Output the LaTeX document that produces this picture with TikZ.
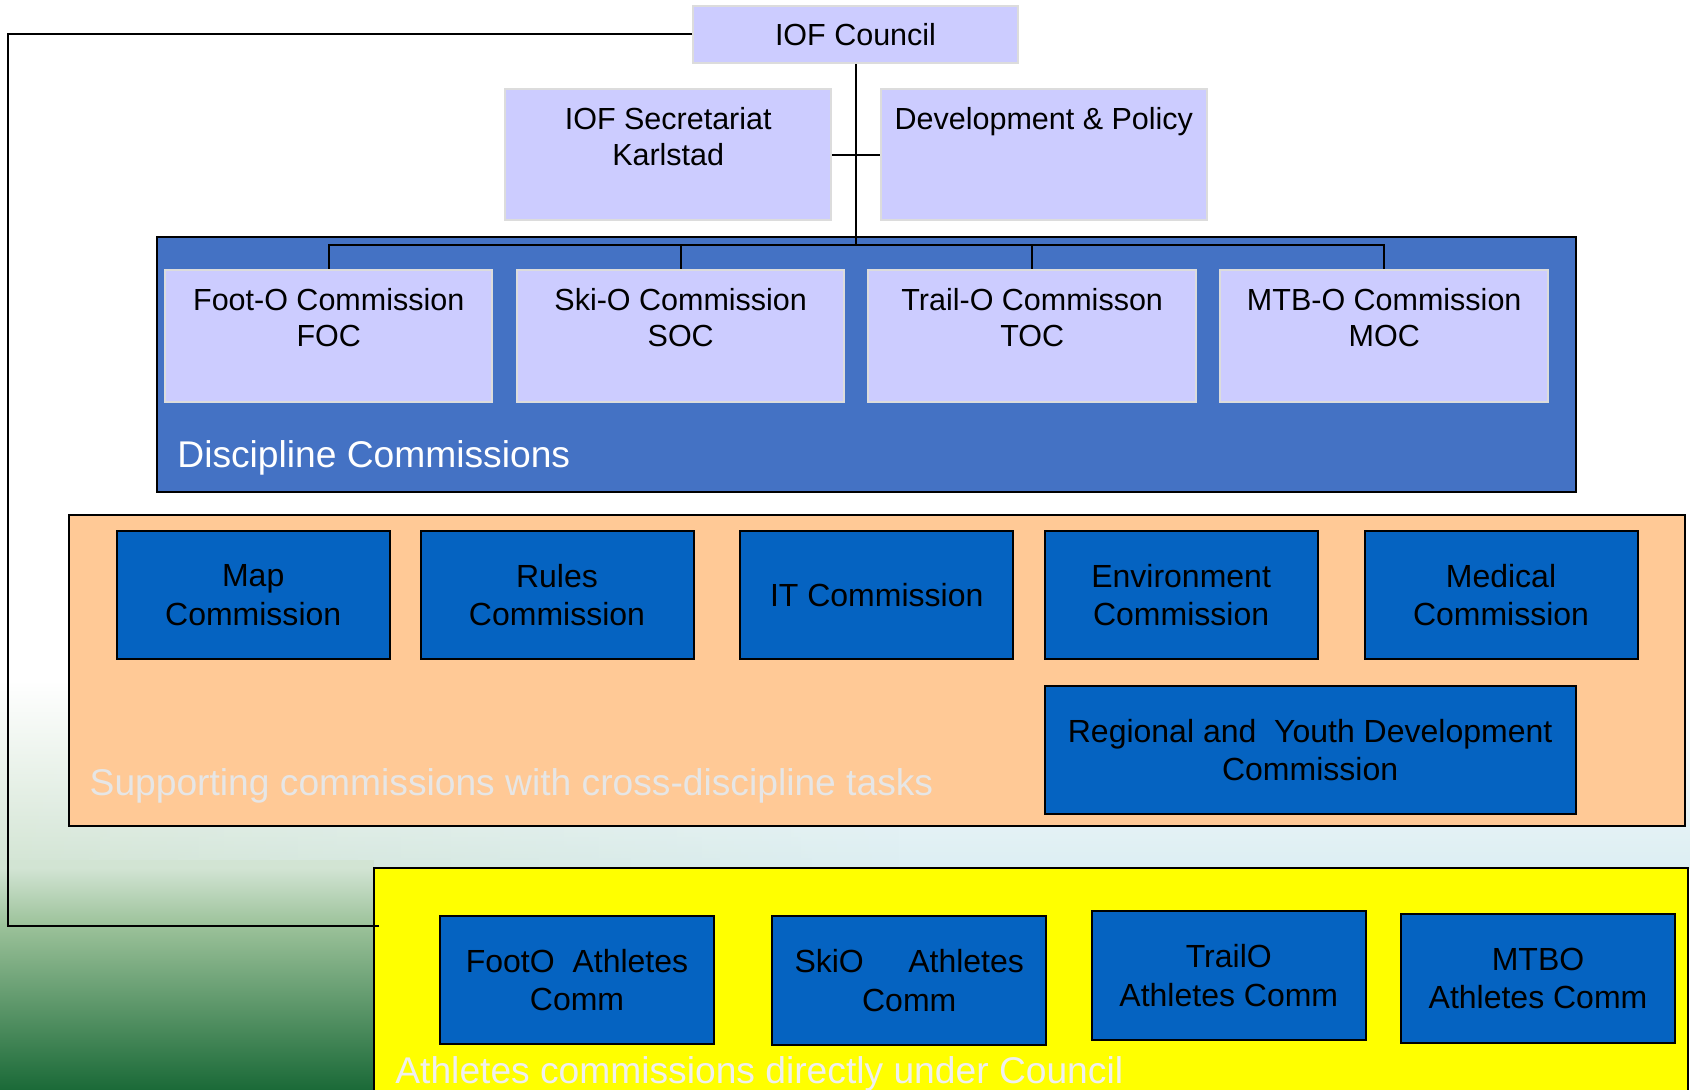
\documentclass[tikz,border=0pt]{standalone}
\usepackage{fontspec}
\setmainfont{Liberation Sans}
\usetikzlibrary{fadings}
\definecolor{lavfill}{HTML}{CCCCFF}
\definecolor{lavline}{HTML}{DCDCDC}
\definecolor{discfill}{HTML}{4472C4}
\definecolor{bluefill}{HTML}{0563C1}
\definecolor{orangefill}{HTML}{FFC996}
\definecolor{yelfill}{HTML}{FFFF00}
\definecolor{greenpale}{HTML}{D2E4D3}
\definecolor{greentop}{HTML}{9CC29A}
\definecolor{greenmid}{HTML}{559650}
\definecolor{greenbot}{HTML}{1B6A38}
\definecolor{bluehaze}{HTML}{DCEEF2}
\definecolor{greyw}{HTML}{E6E6E6}
\definecolor{whitish}{HTML}{EFEFEF}
\begin{document}
\begin{tikzpicture}[x=0.5pt,y=-0.5pt,
  conn/.style={line width=1pt,draw=black},
  lavbox/.style={draw=lavline,line width=1pt,fill=lavfill,inner sep=0pt},
  lavtxt/.style={font=\fontsize{15.25}{18.3}\selectfont,align=center,inner sep=0pt,anchor=north},
  bluebox/.style={draw=black,line width=1pt,fill=bluefill,inner sep=0pt,align=center,
    minimum width=136.5pt,minimum height=64.3pt,font=\fontsize{16}{19.2}\selectfont},
  container/.style={draw=black,line width=1pt,inner sep=0pt},
  biglabel/.style={font=\fontsize{18.6}{22}\selectfont,anchor=base west,inner sep=0pt}]
\useasboundingbox (0,0) rectangle (1690,1089);
% background
\fill[white] (0,0) rectangle (1690,1089);
\shade[top color=white,bottom color=bluehaze] (0,680) rectangle (1690,868);
\shade[top color=white,bottom color=greenpale,path fading=east] (0,680) rectangle (900,868);
\fill[greenpale] (0,860) rectangle (374,868);
\shade[top color=greenpale,bottom color=greentop] (0,867.5) rectangle (374,925);
\shade[top color=greentop,middle color=greenmid,bottom color=greenbot] (0,924.5) rectangle (374,1089);
% containers
\node[container,fill=discfill,minimum width=709.5pt,minimum height=127.8pt] (disc) at (866.2,364.5) {};
\node[container,fill=orangefill,minimum width=808.05pt,minimum height=155.5pt] (supp) at (876.95,670.2) {};
\node[container,fill=yelfill,minimum width=657pt,minimum height=116pt] (ath) at (1031,984) {};
% lavender boxes
\node[lavbox,minimum width=162.5pt,minimum height=28.35pt,font=\fontsize{15.25}{18.3}\selectfont] (council) at (855.5,34.4) {IOF Council};
\node[lavbox,minimum width=162.75pt,minimum height=65.35pt] (sec) at (668.2,154.6) {};
\node[lavbox,minimum width=162.75pt,minimum height=65.35pt] (dev) at (1043.8,154.6) {};
\node[lavbox,minimum width=163.75pt,minimum height=66.15pt] (foc) at (328.7,336.1) {};
\node[lavbox,minimum width=163.75pt,minimum height=66.15pt] (soc) at (680.7,336.1) {};
\node[lavbox,minimum width=163.75pt,minimum height=66.15pt] (toc) at (1032.2,336.1) {};
\node[lavbox,minimum width=163.75pt,minimum height=66.15pt] (moc) at (1384.2,336.1) {};
% connectors
\coordinate (bar) at (856,245);
\coordinate (lc) at (7.5,925.7);
\coordinate (lce) at (378.6,925.7);
\draw[conn] (council.west) -| (lc) -- (lce);
\draw[conn] (council.south) -- (council.south |- bar);
\draw[conn] (sec.east) -- (dev.west);
\draw[conn] (foc.north) -- (foc.north |- bar) -- (moc.north |- bar) -- (moc.north);
\draw[conn] (soc.north) -- (soc.north |- bar);
\draw[conn] (toc.north) -- (toc.north |- bar);
% lavender texts
\node[lavtxt] (sec-t) at (668.2,106.5) {IOF Secretariat\\Karlstad};
\node[lavtxt] (dev-t) at (1043.8,106.5) {Development \& Policy};
\node[lavtxt] (foc-t) at (328.7,287.5) {Foot-O Commission\\FOC};
\node[lavtxt] (soc-t) at (680.7,287.5) {Ski-O Commission\\SOC};
\node[lavtxt] (toc-t) at (1032.2,287.5) {Trail-O Commisson\\TOC};
\node[lavtxt] (moc-t) at (1384.2,287.5) {MTB-O Commission\\MOC};
% supporting commissions
\node[bluebox] (map) at (253.2,595) {Map\\Commission};
\node[bluebox] (rules) at (557,595) {Rules\\Commission};
\node[bluebox] (it) at (876.7,595) {IT Commission};
\node[bluebox] (env) at (1181.1,595) {Environment\\Commission};
\node[bluebox] (med) at (1501,595) {Medical\\Commission};
\node[bluebox,minimum width=265.4pt,minimum height=64.15pt] (reg) at (1310.1,749.9) {Regional and\ \ Youth Development\\Commission};
% athletes commissions
\node[bluebox,minimum width=137pt] (footo) at (577,980) {FootO\ \ Athletes\\Comm};
\node[bluebox,minimum width=137pt] (skio) at (909.2,980.7) {SkiO\ \ \ \ \ Athletes\\Comm};
\node[bluebox,minimum width=137pt] (trailo) at (1228.8,975.4) {TrailO\\Athletes Comm};
\node[bluebox,minimum width=137pt] (mtbo) at (1538,978.4) {MTBO\\Athletes Comm};
% group labels
\node[biglabel,text=white] (disc-l) at (177,467) {Discipline Commissions};
\node[biglabel,text=greyw] (supp-l) at (89.3,795) {Supporting commissions with cross-discipline tasks};
\node[biglabel,text=whitish] (ath-l) at (395,1083.3) {Athletes commissions directly under Council};
\end{tikzpicture}
\end{document}
